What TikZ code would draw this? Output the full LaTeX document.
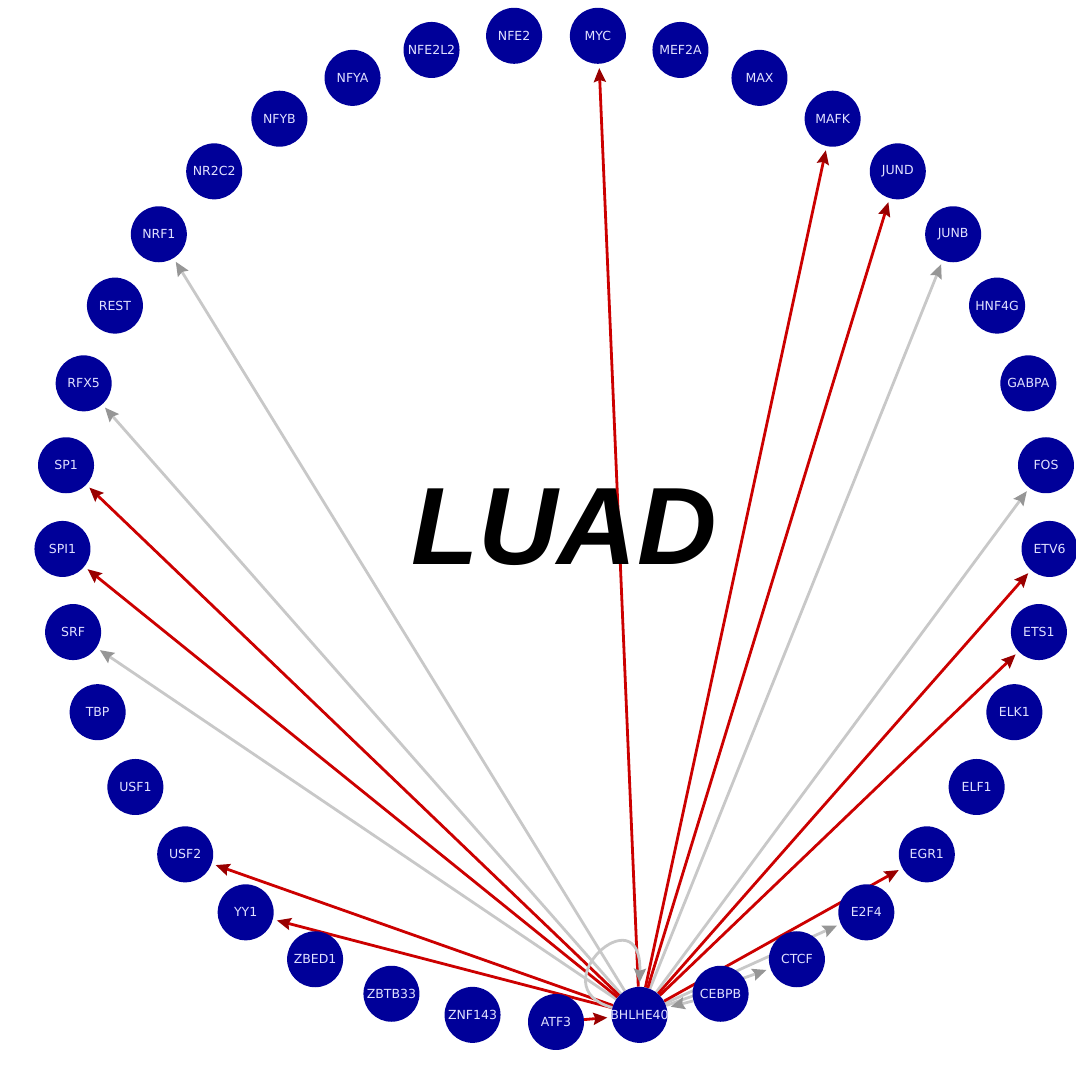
\documentclass[tikz,border=0pt]{standalone}
\usepackage{fontspec}
\setmainfont{DejaVu Sans}
\newfontfamily\luadfont{Liberation Sans}
\usetikzlibrary{arrows.meta,calc}
\pgfdeclarelayer{background}
\pgfsetlayers{background,main}
\definecolor{nodeblue}{RGB}{0,0,153}
\definecolor{labelcol}{RGB}{225,225,255}
\definecolor{edgered}{RGB}{204,0,0}
\definecolor{tipred}{RGB}{153,0,0}
\definecolor{edgegray}{RGB}{200,200,200}
\definecolor{tipgray}{RGB}{150,150,150}
\tikzset{
  tf/.style={circle, fill=nodeblue, minimum size=56pt, inner sep=0pt, text=labelcol,
    font=\fontsize{12.5}{12.5}\selectfont},
  redE/.style={draw=edgered, line width=2.8pt, shorten >=4pt,
    -{Stealth[length=14pt,width=12pt,inset=2pt,color=tipred]}},
  grayE/.style={draw=edgegray, line width=2.8pt, shorten >=4pt,
    -{Stealth[length=14pt,width=12pt,inset=2pt,color=tipgray]}},
}
\begin{document}
\begin{tikzpicture}[x=1pt,y=1pt]
\useasboundingbox (0,0) rectangle (1076,1067);
\coordinate (C) at (556,539);
\foreach \n [count=\i from 0] in {MYC,MEF2A,MAX,MAFK,JUND,JUNB,HNF4G,GABPA,FOS,ETV6,ETS1,ELK1,ELF1,EGR1,E2F4,CTCF,CEBPB,BHLHE40,ATF3,ZNF143,ZBTB33,ZBED1,YY1,USF2,USF1,TBP,SRF,SPI1,SP1,RFX5,REST,NRF1,NR2C2,NFYB,NFYA,NFE2L2,NFE2}
  \node[tf] (\n) at ($(C)+({85.135-\i*9.7297}:494)$) {\makebox[0pt]{\n}};

\node[inner sep=0pt, font=\luadfont\bfseries\itshape\fontsize{110}{110}\selectfont] (luad) at (564,540) {LUAD};

\begin{pgfonlayer}{background}
  \foreach \t in {NRF1,RFX5,SRF,JUNB,FOS,CTCF,E2F4}
    \draw[grayE] (BHLHE40) -- (\t);
  \draw[grayE] (CEBPB) -- (BHLHE40);
  \foreach \t in {MYC,MAFK,JUND,ETV6,ETS1,EGR1,SP1,SPI1,USF2,YY1}
    \draw[redE] (BHLHE40) -- (\t);
  \draw[redE] (ATF3) -- (BHLHE40);
  \draw[grayE] (BHLHE40.165) .. controls (538,80) and (642,175) .. (BHLHE40.north);
\end{pgfonlayer}
\end{tikzpicture}
\end{document}
